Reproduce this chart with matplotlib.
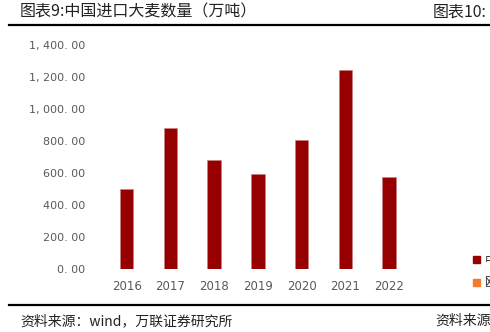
import matplotlib.pyplot as plt
import matplotlib.ticker as ticker
from matplotlib.patches import Patch
from matplotlib.lines import Line2D

# ── Data ──────────────────────────────────────────────────────────────────────
years = ["2016", "2017", "2018", "2019", "2020", "2021", "2022"]
imports = [500, 883, 681, 591, 806, 1244, 575]   # 万吨
y_ticks = [0, 200, 400, 600, 800, 1000, 1200, 1400]
legend_labels = ["中国进口大麦数量", "欧盟"]

BAR = "#960000"
ORANGE = "#f07c30"
GREY = "#595959"

plt.rcParams["font.family"] = ["Noto Sans CJK SC", "DejaVu Sans"]

fig = plt.figure(figsize=(4.9, 3.32), dpi=100)
W, H = 490, 332

# ── Bar chart ────────────────────────────────────────────────────────────────
ax = fig.add_axes([104.8 / W, (H - 269) / H, (411 - 104.8) / W, (269 - 45) / H])
x = range(len(years))
ax.bar(x, imports, width=0.31, color=BAR, edgecolor="#c98080", linewidth=0.4)
ax.set_xlim(-0.5, len(years) - 0.5)
ax.set_ylim(0, 1400)
ax.set_yticks(y_ticks)
ax.yaxis.set_major_formatter(ticker.FuncFormatter(
    lambda v, p: f"{v:,.2f}".replace(",", ", ").replace(".", ". ")))
ax.set_xticks(list(x))
ax.set_xticklabels(years)
ax.tick_params(axis="y", length=0, pad=14, labelsize=8, labelcolor=GREY)
ax.tick_params(axis="x", length=0, pad=8, labelsize=8.5, labelcolor=GREY)
for lab in ax.get_yticklabels() + ax.get_xticklabels():
    lab.set_family("DejaVu Sans")
for s in ax.spines.values():
    s.set_visible(False)

# legend cut off at the right edge, as in the source page
handles = [Patch(color=BAR), Patch(color=ORANGE)]
fig.legend(handles, legend_labels, loc="upper left",
           bbox_to_anchor=(462 / W, (H - 243) / H), frameon=False,
           handlelength=0.5, handleheight=0.5, labelspacing=0.75,
           handletextpad=0.4, fontsize=9, labelcolor="#333333")

# ── Page header / footer ─────────────────────────────────────────────────────
fig.text(20 / W, (H - 12) / H, "图表9:中国进口大麦数量（万吨）",
         fontsize=11.5, va="center", ha="left", color="#222222")
fig.text(433 / W, (H - 12) / H, "图表10:",
         fontsize=11.5, va="center", ha="left", color="#222222")
fig.text(20 / W, (H - 321) / H, "资料来源：wind，万联证券研究所",
         fontsize=10, va="center", ha="left", color="#222222", style="italic")
fig.text(435 / W, (H - 321) / H, "资料来源",
         fontsize=10, va="center", ha="left", color="#222222", style="italic")

for yy in (25, 305):
    for x0, x1 in ((9, 427), (429, 490)):
        fig.add_artist(Line2D([x0 / W, x1 / W], [(H - yy) / H] * 2,
                              transform=fig.transFigure, color="black", lw=1.6))

fig.savefig("out.png", dpi=100)
